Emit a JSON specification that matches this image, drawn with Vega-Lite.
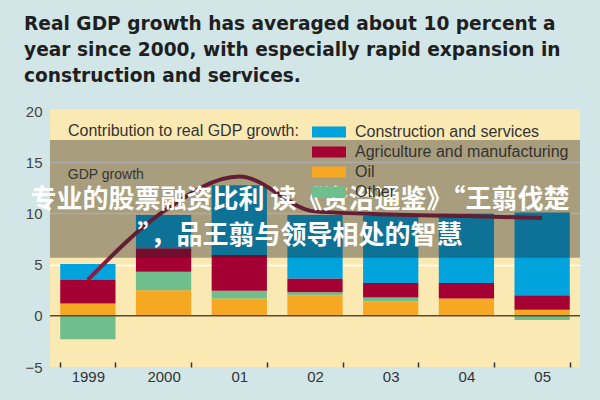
{
  "$schema": "https://vega.github.io/schema/vega-lite/v6.json",
  "width": 530,
  "height": 258,
  "autosize": "none",
  "padding": {"left": 50, "top": 109, "right": 20, "bottom": 33},
  "background": "#d2e6e8",
  "config": {
    "view": {"fill": "#fbe9b3", "stroke": null},
    "font": "Liberation Sans"
  },
  "title": {
    "text": ["Real GDP growth has averaged about 10 percent a", "year since 2000, with especially rapid expansion in", "construction and services."],
    "anchor": "start",
    "frame": "bounds",
    "font": "DejaVu Sans",
    "fontSize": 18.6,
    "fontWeight": "bold",
    "color": "#1f1f1f",
    "lineHeight": 26,
    "offset": 18
  },
  "datasets": {
    "parts": [
      {"year": "1999", "component": "Oil", "rank": 1, "value": 1.2},
      {"year": "1999", "component": "Other", "rank": 2, "value": -2.3},
      {"year": "1999", "component": "Agriculture and manufacturing", "rank": 3, "value": 2.3},
      {"year": "1999", "component": "Construction and services", "rank": 4, "value": 1.55},
      {"year": "2000", "component": "Oil", "rank": 1, "value": 2.5},
      {"year": "2000", "component": "Other", "rank": 2, "value": 1.8},
      {"year": "2000", "component": "Agriculture and manufacturing", "rank": 3, "value": 2.3},
      {"year": "2000", "component": "Construction and services", "rank": 4, "value": 3.25},
      {"year": "01", "component": "Oil", "rank": 1, "value": 1.7},
      {"year": "01", "component": "Other", "rank": 2, "value": 0.75},
      {"year": "01", "component": "Agriculture and manufacturing", "rank": 3, "value": 3.5},
      {"year": "01", "component": "Construction and services", "rank": 4, "value": 6.8},
      {"year": "02", "component": "Oil", "rank": 1, "value": 2.0},
      {"year": "02", "component": "Other", "rank": 2, "value": 0.3},
      {"year": "02", "component": "Agriculture and manufacturing", "rank": 3, "value": 1.35},
      {"year": "02", "component": "Construction and services", "rank": 4, "value": 6.2},
      {"year": "03", "component": "Oil", "rank": 1, "value": 1.4},
      {"year": "03", "component": "Other", "rank": 2, "value": 0.4},
      {"year": "03", "component": "Agriculture and manufacturing", "rank": 3, "value": 1.4},
      {"year": "03", "component": "Construction and services", "rank": 4, "value": 6.6},
      {"year": "04", "component": "Oil", "rank": 1, "value": 1.7},
      {"year": "04", "component": "Other", "rank": 2, "value": 0},
      {"year": "04", "component": "Agriculture and manufacturing", "rank": 3, "value": 1.5},
      {"year": "04", "component": "Construction and services", "rank": 4, "value": 6.8},
      {"year": "05", "component": "Oil", "rank": 1, "value": 0.6},
      {"year": "05", "component": "Other", "rank": 2, "value": -0.4},
      {"year": "05", "component": "Agriculture and manufacturing", "rank": 3, "value": 1.4},
      {"year": "05", "component": "Construction and services", "rank": 4, "value": 8.1}
    ],
    "gdp": [
      {"year": "1999", "gdp": 3.5},
      {"year": "2000", "gdp": 10.2},
      {"year": "01", "gdp": 13.6},
      {"year": "02", "gdp": 10.2},
      {"year": "03", "gdp": 9.9},
      {"year": "04", "gdp": 9.75},
      {"year": "05", "gdp": 9.55}
    ]
  },
  "layer": [
    {
      "data": {"name": "parts"},
      "mark": {"type": "bar"},
      "encoding": {
        "x": {
          "field": "year", "type": "nominal",
          "sort": ["1999", "2000", "01", "02", "03", "04", "05"],
          "scale": {"paddingInner": 0.27, "paddingOuter": 0.135},
          "axis": {
            "title": null, "labelAngle": 0, "domain": false,
            "tickBand": "extent", "tickSize": -5, "tickColor": "#333333", "tickWidth": 1.5,
            "labelPadding": 7, "labelFontSize": 15, "labelColor": "#333333", "labelFont": "Liberation Sans"
          }
        },
        "y": {
          "field": "value", "type": "quantitative",
          "scale": {"domain": [-5, 20.2], "nice": false, "zero": false},
          "axis": {
            "title": null, "values": [-5, 0, 5, 10, 15, 20], "domain": false, "ticks": false,
            "labelPadding": 8, "labelFontSize": 15, "labelColor": "#444444", "labelFont": "Liberation Sans",
            "grid": true, "gridWidth": 1.5,
            "gridColor": {"condition": {"test": "datum.value === 5 || datum.value === 10 || datum.value === 15", "value": "#ffffff"}, "value": "transparent"}
          }
        },
        "color": {
          "field": "component", "type": "nominal",
          "scale": {
            "domain": ["Construction and services", "Agriculture and manufacturing", "Oil", "Other"],
            "range": ["#00a3dc", "#a50034", "#f7a823", "#6fbf8c"]
          },
          "legend": {
            "orient": "none", "legendX": 18, "legendY": 15,
            "title": "Contribution to real GDP growth:",
            "titleOrient": "left", "titleAnchor": "start", "titleBaseline": "line-top", "titleLineHeight": 15,
            "titleFontSize": 16, "titleFontWeight": "normal", "titleColor": "#333333", "titleFont": "Liberation Sans",
            "titlePadding": 21, "titleLimit": 400,
            "symbolType": "M-2.5,-0.8H2.5V0.8H-2.5Z", "symbolSize": 185, "symbolStrokeWidth": 0, "symbolOpacity": 1,
            "labelFontSize": 16, "labelColor": "#333333", "labelFont": "Liberation Sans", "labelOffset": 18, "labelLimit": 400,
            "rowPadding": 4
          }
        },
        "order": {"field": "rank", "type": "quantitative"}
      }
    },
    {
      "data": {"values": [{}]},
      "mark": {"type": "rule", "color": "#5a4a30", "strokeWidth": 1.5},
      "encoding": {"y": {"datum": 0}}
    },
    {
      "data": {"name": "gdp"},
      "mark": {"type": "line", "interpolate": "monotone", "color": "#8a1d3f", "strokeWidth": 4},
      "encoding": {
        "x": {"field": "year", "type": "nominal", "sort": ["1999", "2000", "01", "02", "03", "04", "05"]},
        "y": {"field": "gdp", "type": "quantitative"}
      }
    },
    {
      "data": {"values": [{}]},
      "mark": {"type": "text", "text": "GDP growth", "fontSize": 14, "color": "#444444", "align": "left", "dx": -20},
      "encoding": {"x": {"datum": "1999"}, "y": {"datum": 13.8}}
    },
    {
      "data": {"values": [{}]},
      "mark": {"type": "rect", "color": "#222222", "opacity": 0.38},
      "encoding": {"y": {"datum": 17.17}, "y2": {"datum": 5.66}}
    },
    {
      "data": {"values": [{}]},
      "mark": {
        "type": "text",
        "text": "专业的股票融资比利 读《资治通鉴》“王翦伐楚\n”，品王翦与领导相处的智慧",
        "lineBreak": "\n", "lineHeight": 36,
        "font": "Noto Sans CJK SC", "fontWeight": "bold", "fontSize": 26,
        "color": "#ffffff", "align": "center", "baseline": "middle", "dx": -15
      },
      "encoding": {"y": {"datum": 11.3}}
    }
  ]
}
